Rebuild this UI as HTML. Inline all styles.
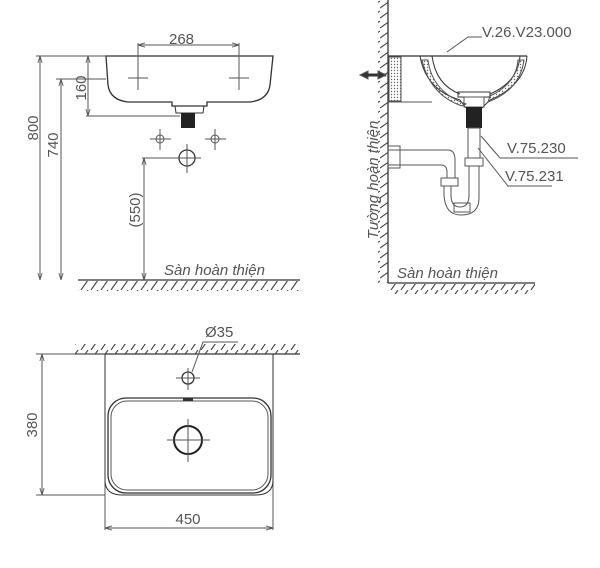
<!DOCTYPE html>
<html><head><style>
html,body{margin:0;padding:0;background:#fff;}
svg{display:block;}
text{font-family:"Liberation Sans",sans-serif;fill:#555;}
</style></head><body>
<svg width="600" height="568" viewBox="0 0 600 568" xmlns="http://www.w3.org/2000/svg">
<defs>
<marker id="a" viewBox="0 0 10 10" refX="10" refY="5" markerWidth="7" markerHeight="7" orient="auto-start-reverse"><path d="M0,2 L10,5 L0,8" fill="none" stroke="#555" stroke-width="1.2"/></marker>
<pattern id="h" width="10" height="10" patternUnits="userSpaceOnUse"><path d="M1,10 L8,0" stroke="#444" stroke-width="1.1"/></pattern>
<pattern id="hv" width="10" height="10" patternUnits="userSpaceOnUse"><path d="M10,1 L0,8" stroke="#444" stroke-width="1.1"/></pattern>
<pattern id="dots" width="3" height="3" patternUnits="userSpaceOnUse"><circle cx="1.5" cy="1.5" r="0.7" fill="#666"/></pattern>
</defs>
<g stroke="#555" fill="none" stroke-width="1">
<path d="M106,56 L273,56 L270,85 Q268,100 250,102 L207,102 L207,106 L172,106 L172,102 L128,102 Q110,100 108,85 Z" stroke="#333" stroke-width="1.3"/>
<path d="M175,106 L176,113 L203,113 L204,106" stroke="#333"/>
<rect x="181" y="113" width="14" height="15" fill="#222" stroke="none"/>
<line x1="138" y1="45" x2="239" y2="45" marker-start="url(#a)" marker-end="url(#a)"/>
<line x1="138" y1="43" x2="138" y2="90"/><line x1="239" y1="43" x2="239" y2="90"/>
<line x1="128" y1="78" x2="148" y2="78"/><line x1="229" y1="78" x2="249" y2="78"/>
<line x1="36" y1="56" x2="106" y2="56"/>
<line x1="40" y1="56" x2="40" y2="280" marker-start="url(#a)" marker-end="url(#a)"/>
<line x1="56" y1="79" x2="106" y2="79"/>
<line x1="61" y1="79" x2="61" y2="280" marker-start="url(#a)" marker-end="url(#a)"/>
<line x1="86" y1="116" x2="180" y2="116"/>
<line x1="88" y1="56" x2="88" y2="116" marker-start="url(#a)" marker-end="url(#a)"/>
<circle cx="160" cy="139" r="4"/><line x1="150" y1="139" x2="171" y2="139"/><line x1="160" y1="129" x2="160" y2="150"/>
<circle cx="215" cy="139" r="4"/><line x1="205" y1="139" x2="226" y2="139"/><line x1="215" y1="129" x2="215" y2="150"/>
<circle cx="187" cy="158" r="8" stroke="#333" stroke-width="1.3"/><line x1="173" y1="158" x2="201" y2="158"/><line x1="187" y1="144" x2="187" y2="173"/>
<line x1="142" y1="158" x2="175" y2="158"/>
<line x1="144" y1="158" x2="144" y2="280" marker-start="url(#a)" marker-end="url(#a)"/>
<line x1="78" y1="280" x2="300" y2="280" stroke="#333" stroke-width="1.3"/>
<rect x="78" y="281" width="222" height="10" fill="url(#h)" stroke="none"/>
<line x1="388" y1="0" x2="388" y2="283" stroke="#333" stroke-width="1.3"/>
<rect x="378" y="0" width="10" height="283" fill="url(#hv)" stroke="none"/>
<line x1="388" y1="283" x2="535" y2="283" stroke="#333" stroke-width="1.3"/>
<rect x="388" y="284" width="147" height="10" fill="url(#h)" stroke="none"/>
<line x1="388" y1="56" x2="527" y2="56" stroke="#333" stroke-width="1.3"/>
<rect x="389" y="57" width="12" height="44" fill="url(#dots)"/>
<line x1="388" y1="102" x2="432" y2="102"/>
<path d="M420,56 Q426,90 460,100 L466,108 M432,56 Q436,85 460,94 M527,56 Q525,85 490,100 L482,108 M520,56 Q518,82 490,94" stroke="#333"/>
<path d="M422,60 Q430,95 462,106 L466,104 Q432,92 428,60 Z" fill="url(#dots)"/>
<path d="M524,60 Q520,90 488,102 L490,96 Q516,84 518,60 Z" fill="url(#dots)"/>
<rect x="458" y="92" width="32" height="5" stroke="#333"/>
<rect x="464" y="97" width="20" height="10"/>
<rect x="466" y="107" width="16" height="21" fill="#222" stroke="none"/>
<rect x="468" y="128" width="12" height="30"/>
<rect x="465" y="158" width="18" height="8"/>
<path d="M469,166 L469,195 Q469,207 460,207 Q451,207 451,195 L451,186 M479,166 L479,198 Q479,215 461,215 Q445,215 444,195 L444,186"/>
<rect x="441" y="178" width="17" height="8"/>
<rect x="454" y="203" width="16" height="9"/>
<path d="M388,150 L448,150 Q455,150 455,160 L455,178 M388,165 L441,165 Q447,165 447,172 L447,178"/>
<rect x="388" y="146" width="12" height="22"/>
<path d="M360,75 L368,71 L368,79 Z" fill="#333"/>
<line x1="366" y1="75" x2="386" y2="75" stroke="#333" stroke-width="3"/>
<path d="M386,75 L378,71 L378,79 Z" fill="#333"/>
<polyline points="447,52 468,37 482,37"/>
<polyline points="481,136 500,158 578,158"/>
<polyline points="478,148 508,186 552,186"/>
<line x1="75" y1="354" x2="300" y2="354" stroke="#333" stroke-width="1.3"/>
<rect x="75" y="344" width="225" height="10" fill="url(#h)" stroke="none"/>
<path d="M105,354 L105,530 M273,354 L273,530"/>
<path d="M105,354 L105,480 Q105,495 122,495 L256,495 Q273,495 273,480 L273,354" stroke="#333"/>
<rect x="108" y="398" width="163" height="95" rx="18" stroke="#333" stroke-width="1.3"/>
<rect x="111" y="401" width="157" height="89" rx="16"/>
<rect x="183" y="398" width="10" height="3" fill="#333" stroke="none"/>
<circle cx="188" cy="440" r="14" stroke="#222" stroke-width="2"/>
<line x1="167" y1="440" x2="210" y2="440"/><line x1="188" y1="419" x2="188" y2="462"/>
<circle cx="188" cy="378" r="6" stroke="#333" stroke-width="1.3"/>
<line x1="176" y1="378" x2="200" y2="378"/><line x1="188" y1="368" x2="188" y2="390"/>
<polyline points="192,372 203,342 238,342"/>
<line x1="36" y1="354" x2="105" y2="354"/><line x1="36" y1="495" x2="105" y2="495"/>
<line x1="42" y1="354" x2="42" y2="495" marker-start="url(#a)" marker-end="url(#a)"/>
<line x1="105" y1="528" x2="273" y2="528" marker-start="url(#a)" marker-end="url(#a)"/>
</g>
<text x="169" y="44" font-size="15">268</text>
<text transform="translate(38,128) rotate(-90)" font-size="15" text-anchor="middle">800</text>
<text transform="translate(58,145) rotate(-90)" font-size="15" text-anchor="middle">740</text>
<text transform="translate(86,88) rotate(-90)" font-size="15" text-anchor="middle">160</text>
<text transform="translate(140,210) rotate(-90)" font-size="15" text-anchor="middle">(550)</text>
<text x="164" y="275" font-size="15" font-style="italic">Sàn hoàn thiện</text>
<text x="397" y="278" font-size="15" font-style="italic">Sàn hoàn thiện</text>
<text transform="translate(378,180) rotate(-90)" font-size="15" font-style="italic" text-anchor="middle">Tường hoàn thiện</text>
<text x="482" y="37" font-size="15">V.26.V23.000</text>
<text x="507" y="153" font-size="15">V.75.230</text>
<text x="505" y="181" font-size="15">V.75.231</text>
<text x="205" y="337" font-size="15">Ø35</text>
<text transform="translate(37,425) rotate(-90)" font-size="15" text-anchor="middle">380</text>
<text x="188" y="524" font-size="15" text-anchor="middle">450</text>
</svg>
</body></html>
